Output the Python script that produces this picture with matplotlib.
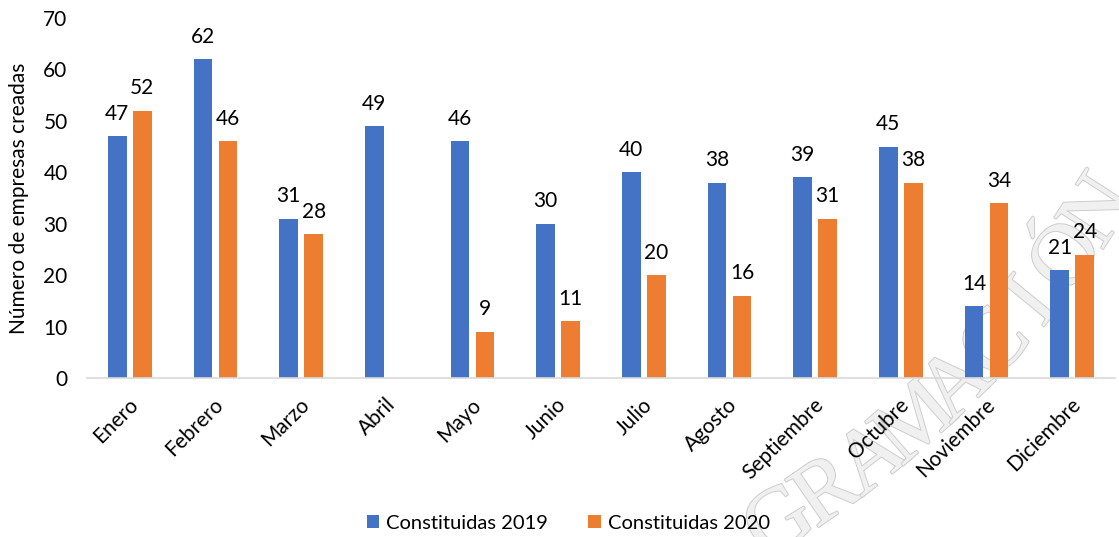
import numpy as np
import matplotlib.pyplot as plt
import matplotlib.patheffects as pe
from matplotlib.transforms import ScaledTranslation

plt.rcParams['font.family'] = ['Lato', 'DejaVu Sans']

meses = ["Enero", "Febrero", "Marzo", "Abril", "Mayo", "Junio", "Julio",
         "Agosto", "Septiembre", "Octubre", "Noviembre", "Diciembre"]
const_2019 = [47, 62, 31, 49, 46, 30, 40, 38, 39, 45, 14, 21]
const_2020 = [52, 46, 28, None, 9, 11, 20, 16, 31, 38, 34, 24]
marca = "GRAMACIÓN"

azul = "#4472C4"
naranja = "#ED7D31"

fig = plt.figure(figsize=(11.19, 5.37), dpi=100)
ax = fig.add_axes([0.0778, 0.296, 0.9186, 0.6705])
ax.set_facecolor("none")

x = np.arange(len(meses))
ancho = 0.22
desp = 0.146
v19 = np.array(const_2019, dtype=float)
v20 = np.array([np.nan if v is None else v for v in const_2020])

b1 = ax.bar(x - desp, v19, ancho, color=azul, label="Constituidas 2019", zorder=2)
b2 = ax.bar(x + desp, np.nan_to_num(v20), ancho, color=naranja,
            label="Constituidas 2020", zorder=2)

ax.bar_label(b1, labels=[f"{v:.0f}" for v in v19], padding=9, fontsize=15)
ax.bar_label(b2, labels=["" if np.isnan(v) else f"{v:.0f}" for v in v20],
             padding=9, fontsize=15)

ax.set_xlim(-0.5, len(meses) - 0.5)
ax.set_ylim(0, 70)
ax.set_yticks(range(0, 71, 10))
ax.set_xticks(x)
ax.set_xticklabels(meses, rotation=45, ha="right", va="center",
                   rotation_mode="anchor", fontsize=15)
ax.tick_params(axis="y", length=0, labelsize=15, pad=14)
ax.tick_params(axis="x", length=0, pad=17)
desplaza = ScaledTranslation(0.05, 0, fig.dpi_scale_trans)
for lbl in ax.get_xticklabels():
    lbl.set_transform(lbl.get_transform() + desplaza)
for s in ["top", "right", "left"]:
    ax.spines[s].set_visible(False)
ax.spines["bottom"].set_color("#d9d9d9")
ax.spines["bottom"].set_linewidth(1.2)

ax.set_ylabel("Número de empresas creadas", fontsize=15, labelpad=10)

fig.legend(handles=[b1, b2], loc="center", bbox_to_anchor=(0.508, 0.026),
           ncol=2, frameon=False, fontsize=14.5, handlelength=0.6,
           handleheight=0.6, handletextpad=0.35, columnspacing=2.0)

# marca de agua en arco, detras de las barras
cx, cy, radio = 253, -336, 1010
for i, letra in enumerate(marca):
    th = np.radians(58.5 - 3.2 * i)
    px = cx + radio * np.cos(th)
    py = cy + radio * np.sin(th)
    fig.text(px / 1119, 1 - py / 537, letra, fontsize=64,
             family="Liberation Serif", color="#f0f0f0",
             rotation=90 - np.degrees(th), ha="center", va="center",
             rotation_mode="anchor", zorder=-1,
             path_effects=[pe.withStroke(linewidth=1.4, foreground="#cdcdcd")])

fig.savefig("out.png", dpi=100)
